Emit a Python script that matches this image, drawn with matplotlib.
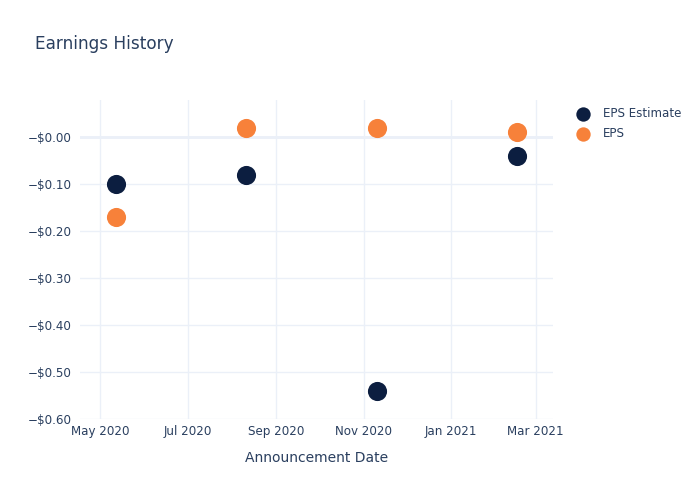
import matplotlib
matplotlib.use("Agg")
import matplotlib.pyplot as plt
import numpy as np
from datetime import datetime

dates = ["2020-05-12", "2020-08-11", "2020-11-10", "2021-02-16"]
eps_estimate = [-0.10, -0.08, -0.54, -0.04]
eps_actual = [-0.17, 0.02, 0.02, 0.01]
y_ticks = [0.0, -0.1, -0.2, -0.3, -0.4, -0.5, -0.6]
y_tick_labels = ["\u2212$0.00", "\u2212$0.10", "\u2212$0.20", "\u2212$0.30", "\u2212$0.40", "\u2212$0.50", "\u2212$0.60"]
x_ticks = ["2020-05-01", "2020-07-01", "2020-09-01", "2020-11-01", "2021-01-01", "2021-03-01"]
x_tick_labels = ["May 2020", "Jul 2020", "Sep 2020", "Nov 2020", "Jan 2021", "Mar 2021"]

text_color = "#2a3f5f"
grid_color = "#ebf0f8"
c_est = "#0c1e40"
c_eps = "#f7813a"

plt.rcParams['font.family'] = ['DejaVu Sans']
fig = plt.figure(figsize=(7, 5), dpi=100)
ax = fig.add_axes([80/700, 81/500, 473/700, 319/500])

xd = [datetime.strptime(d, "%Y-%m-%d") for d in dates]
ax.scatter(xd, eps_estimate, s=190, color=c_est, label="EPS Estimate", zorder=3, linewidths=0)
ax.scatter(xd, eps_actual, s=190, color=c_eps, label="EPS", zorder=3, linewidths=0)

ax.set_xlim(datetime(2020, 4, 17), datetime(2021, 3, 13))
ax.set_ylim(-0.6, 0.079)

xt = [datetime.strptime(d, "%Y-%m-%d") for d in x_ticks]
ax.set_xticks(xt)
ax.set_xticklabels(x_tick_labels)
ax.set_yticks(y_ticks)
ax.set_yticklabels(y_tick_labels)

ax.grid(True, color=grid_color, linewidth=1, zorder=0)
ax.axhline(0, color=grid_color, linewidth=2, zorder=1)
for s in ax.spines.values():
    s.set_visible(False)
ax.tick_params(axis='both', length=0, colors=text_color, labelsize=8.6)
ax.tick_params(axis='y', pad=6)
ax.tick_params(axis='x', pad=4)
ax.set_xlabel("Announcement Date", color=text_color, fontsize=10, labelpad=10)

fig.text(35/700, 1 - 44/500, "Earnings History", color=text_color, fontsize=12.2, va='center', ha='left')

leg = fig.legend(loc='upper left', bbox_to_anchor=(571/700, 1 - 107/500), frameon=False,
                 fontsize=8.6, labelcolor=text_color, handletextpad=0.7, labelspacing=0.6,
                 borderaxespad=0, borderpad=0, markerscale=0.75)

fig.savefig("out.png", dpi=100, facecolor="white")
